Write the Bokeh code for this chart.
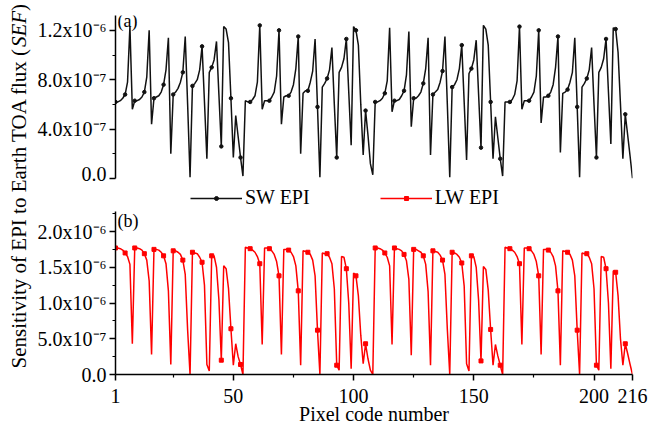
import numpy as np
from bokeh.plotting import figure
from bokeh.models import (Range1d, FixedTicker, CustomJSTickFormatter, Legend,
                          LegendItem, Label, ColumnDataSource)
from bokeh.layouts import row, column
from bokeh.embed import file_html
from bokeh.resources import INLINE

FONT = "Liberation Serif"

# ---------------- data (units of 1e-6) ----------------
pixel_code = list(range(1, 217))

sw_block1 = [0.62, 0.62, 0.63, 0.65, 0.68, 0.78, 1.23, 0.56,
             0.63, 0.63, 0.64, 0.66, 0.70, 0.82, 1.20, 0.44,
             0.65, 0.66, 0.67, 0.70, 0.76, 0.88, 1.14, 0.20,
             0.68, 0.70, 0.73, 0.78, 0.86, 1.15, 0.60, 0.01,
             0.75, 0.77, 0.80, 0.88, 1.07, 0.62, 0.16, 0.86,
             0.90, 0.96, 1.11, 0.68, 0.26,
             1.23, 1.21, 1.10, 0.65, 0.17,
             0.51, 0.34, 0.17, 0.02]
sw_block2 = [0.63, 0.62, 0.62, 0.64, 0.67, 0.78, 1.24, 0.56,
             0.63, 0.63, 0.63, 0.66, 0.70, 0.83, 1.20, 0.44,
             0.66, 0.67, 0.67, 0.70, 0.76, 0.89, 1.15, 0.20,
             0.69, 0.71, 0.71, 0.78, 0.87, 1.13, 0.58, 0.01,
             0.74, 0.77, 0.81, 0.88, 1.06, 0.60, 0.17, 0.86,
             0.90, 0.97, 1.13, 0.70, 0.27,
             1.23, 1.20, 1.08, 0.60, 0.19,
             0.55, 0.35, 0.12, 0.03]
sw_block3 = [0.62, 0.62, 0.63, 0.65, 0.69, 0.79, 1.22, 0.54,
             0.63, 0.63, 0.64, 0.67, 0.71, 0.84, 1.19, 0.42,
             0.65, 0.65, 0.67, 0.70, 0.77, 0.89, 1.14, 0.19,
             0.68, 0.70, 0.72, 0.78, 0.87, 1.15, 0.60, 0.01,
             0.74, 0.76, 0.80, 0.89, 1.08, 0.62, 0.15, 0.85,
             0.89, 0.96, 1.12, 0.68, 0.25,
             1.24, 1.21, 1.08, 0.62, 0.16,
             0.50, 0.33, 0.16, 0.02]
sw_block4 = [0.62, 0.62, 0.62, 0.64, 0.68, 0.79, 1.23, 0.56,
             0.63, 0.63, 0.63, 0.66, 0.70, 0.83, 1.20, 0.45,
             0.66, 0.66, 0.67, 0.70, 0.76, 0.90, 1.15, 0.21,
             0.69, 0.70, 0.72, 0.78, 0.86, 1.14, 0.58, 0.01,
             0.74, 0.77, 0.81, 0.88, 1.06, 0.60, 0.17, 0.86,
             0.90, 0.97, 1.13, 0.70, 0.28,
             1.22, 1.21, 1.02, 0.60, 0.16,
             0.52, 0.35, 0.18, 0.00]

lw_block1 = [1.77, 1.77, 1.76, 1.74, 1.70, 1.65, 1.54, 0.43,
             1.77, 1.77, 1.76, 1.74, 1.69, 1.60, 1.31, 0.28,
             1.75, 1.75, 1.74, 1.71, 1.66, 1.55, 1.17, 0.14,
             1.73, 1.73, 1.71, 1.68, 1.60, 1.40, 0.62, 0.00,
             1.71, 1.70, 1.69, 1.64, 1.57, 1.25, 0.14, 0.05,
             1.66, 1.66, 1.50, 1.05, 0.20,
             1.52, 1.48, 1.20, 0.64, 0.13,
             0.43, 0.25, 0.14, 0.00]
lw_block2 = [1.78, 1.77, 1.76, 1.74, 1.71, 1.65, 1.55, 0.42,
             1.77, 1.77, 1.76, 1.73, 1.68, 1.58, 1.38, 0.28,
             1.75, 1.75, 1.74, 1.71, 1.65, 1.52, 1.17, 0.13,
             1.73, 1.72, 1.71, 1.68, 1.60, 1.38, 0.62, 0.00,
             1.70, 1.69, 1.69, 1.64, 1.55, 1.20, 0.13, 0.06,
             1.65, 1.64, 1.48, 1.00, 0.08,
             1.42, 1.38, 1.10, 0.55, 0.15,
             0.43, 0.22, 0.06, 0.00]
lw_block3 = [1.77, 1.77, 1.76, 1.74, 1.70, 1.64, 1.52, 0.42,
             1.77, 1.76, 1.75, 1.73, 1.68, 1.59, 1.33, 0.27,
             1.75, 1.75, 1.73, 1.71, 1.66, 1.54, 1.16, 0.13,
             1.73, 1.72, 1.71, 1.67, 1.60, 1.40, 0.63, 0.00,
             1.71, 1.70, 1.68, 1.64, 1.56, 1.24, 0.15, 0.05,
             1.66, 1.65, 1.50, 1.04, 0.19,
             1.51, 1.47, 1.18, 0.63, 0.13,
             0.42, 0.26, 0.13, 0.00]
lw_block4 = [1.78, 1.77, 1.76, 1.74, 1.71, 1.65, 1.55, 0.42,
             1.77, 1.77, 1.76, 1.73, 1.68, 1.58, 1.38, 0.28,
             1.75, 1.75, 1.74, 1.71, 1.65, 1.52, 1.17, 0.13,
             1.73, 1.72, 1.71, 1.68, 1.60, 1.38, 0.62, 0.00,
             1.70, 1.69, 1.69, 1.64, 1.55, 1.20, 0.13, 0.06,
             1.65, 1.64, 1.48, 1.00, 0.08,
             1.45, 1.43, 1.10, 0.50, 0.13,
             0.43, 0.29, 0.14, 0.00]

x_major_ticks = [1, 50, 100, 150, 200, 216]
x_minor_ticks = [25, 75, 125, 175]
top_major_ticks = [0.0, 4e-7, 8e-7, 1.2e-6]
top_minor_ticks = [2e-7, 6e-7, 1e-6]
bot_major_ticks = [0.0, 5e-7, 1e-6, 1.5e-6, 2e-6]
bot_minor_ticks = [2.5e-7, 7.5e-7, 1.25e-6, 1.75e-6, 2.25e-6]

series_names = ["SW EPI", "LW EPI"]
y_title_parts = ["Sensitivity of EPI to Earth TOA flux (", "SEF", ")"]
x_title = "Pixel code number"

scale = 1e-6
sw_epi = [v * scale for v in sw_block1 + sw_block2 + sw_block3 + sw_block4]
lw_epi = [v * scale for v in lw_block1 + lw_block2 + lw_block3 + lw_block4]

# markers drawn on every 4th point (as in the original)
src = ColumnDataSource(dict(x=pixel_code, sw=sw_epi, lw=lw_epi))
msrc = ColumnDataSource(dict(x=pixel_code[::4], sw=sw_epi[::4], lw=lw_epi[::4]))

SW_COLOR = "#111111"
LW_COLOR = "#ff0000"

# ---------------- layout constants ----------------
LAB_W = 34
MAIN_W = 648 - LAB_W
B_LEFT = 79
B_RIGHT = 16

sci_formatter = CustomJSTickFormatter(code="""
if (Math.abs(tick) < 1e-15) { return "0.0"; }
const e = Math.floor(Math.log10(Math.abs(tick)) + 1e-9);
const m = tick / Math.pow(10, e);
const sup = {"-": "\\u207b", "0": "\\u2070", "1": "\\u00b9", "2": "\\u00b2", "3": "\\u00b3",
             "4": "\\u2074", "5": "\\u2075", "6": "\\u2076", "7": "\\u2077", "8": "\\u2078", "9": "\\u2079"};
return m.toFixed(1) + "x10" + String(e).split("").map(c => sup[c]).join("");
""")


def style_axis(ax):
    ax.axis_line_width = 1.5
    ax.axis_line_color = "black"
    ax.major_tick_line_width = 1.5
    ax.minor_tick_line_width = 1.2
    ax.major_tick_out = 6
    ax.major_tick_in = 0
    ax.minor_tick_out = 3
    ax.minor_tick_in = 0
    ax.major_label_text_font = FONT
    ax.major_label_text_font_size = "20px"
    ax.major_label_text_color = "black"
    ax.axis_label_text_font = FONT
    ax.axis_label_text_font_style = "normal"
    ax.axis_label_text_font_size = "20px"
    ax.axis_label_text_color = "black"


x_range = Range1d(1, 216)

# ---------------- top panel (a) ----------------
top = figure(width=MAIN_W, height=184, x_range=x_range, y_range=Range1d(0, 1.32e-6),
             output_backend="svg", toolbar_location=None, x_axis_location=None,
             min_border_left=B_LEFT, min_border_right=B_RIGHT,
             min_border_top=15, min_border_bottom=6)
top.outline_line_color = None
top.grid.visible = False
top.yaxis.ticker = FixedTicker(ticks=top_major_ticks, minor_ticks=top_minor_ticks)
top.yaxis.formatter = sci_formatter
top.yaxis.major_label_standoff = 3
style_axis(top.yaxis[0])
top.line("x", "sw", source=src, line_color=SW_COLOR, line_width=1.5)
top.scatter("x", "sw", source=msrc, marker="circle", size=3.5, fill_color=SW_COLOR,
            line_color=SW_COLOR)
top.add_layout(Label(x=2, y=168, x_units="screen", y_units="screen", text="(a)",
                     text_font=FONT, text_font_size="18px", text_baseline="top",
                     text_align="left", text_color="black"))

# ---------------- legend strip between the panels ----------------
leg = figure(width=MAIN_W, height=27, x_range=Range1d(0, 1), y_range=Range1d(0, 1),
             output_backend="svg", toolbar_location=None, x_axis_location=None,
             y_axis_location=None, min_border=0,
             min_border_left=B_LEFT, min_border_right=B_RIGHT)
leg.outline_line_color = None
leg.grid.visible = False
nan = [float("nan")]
sw_l = leg.line(x=nan, y=nan, line_color=SW_COLOR, line_width=1.5)
sw_m = leg.scatter(x=nan, y=nan, marker="circle", size=3.5, fill_color=SW_COLOR, line_color=SW_COLOR)
lw_l = leg.line(x=nan, y=nan, line_color=LW_COLOR, line_width=1.5)
lw_m = leg.scatter(x=nan, y=nan, marker="square", size=4, fill_color=LW_COLOR, line_color=LW_COLOR)
legend = Legend(items=[LegendItem(label=series_names[0], renderers=[sw_l, sw_m]),
                       LegendItem(label=series_names[1], renderers=[lw_l, lw_m])],
                location=(75, 2), orientation="horizontal",
                glyph_width=52, glyph_height=10, label_height=10, label_standoff=3,
                spacing=70, padding=0, margin=0,
                label_text_font=FONT, label_text_font_size="20px",
                label_text_color="black", border_line_color=None,
                background_fill_alpha=0)
leg.add_layout(legend, "center")

# ---------------- bottom panel (b) ----------------
bot = figure(width=MAIN_W, height=220, x_range=x_range, y_range=Range1d(0, 2.28e-6),
             output_backend="svg", toolbar_location=None,
             min_border_left=B_LEFT, min_border_right=B_RIGHT,
             min_border_top=0, min_border_bottom=57)
bot.outline_line_color = None
bot.grid.visible = False
bot.yaxis.ticker = FixedTicker(ticks=bot_major_ticks, minor_ticks=bot_minor_ticks)
bot.yaxis.formatter = sci_formatter
bot.yaxis.major_label_standoff = 3
bot.xaxis.ticker = FixedTicker(ticks=x_major_ticks, minor_ticks=x_minor_ticks)
bot.xaxis.major_label_standoff = 8
bot.xaxis.axis_label = x_title
bot.xaxis.axis_label_standoff = -3
style_axis(bot.yaxis[0])
style_axis(bot.xaxis[0])
bot.line("x", "lw", source=src, line_color=LW_COLOR, line_width=1.5)
bot.scatter("x", "lw", source=msrc, marker="square", size=4, fill_color=LW_COLOR,
            line_color=LW_COLOR)
bot.add_layout(Label(x=2, y=164, x_units="screen", y_units="screen", text="(b)",
                     text_font=FONT, text_font_size="18px", text_baseline="top",
                     text_align="left", text_color="black"))

# ---------------- y title strip ----------------
lab = figure(width=LAB_W, height=431, x_range=Range1d(0, 1), y_range=Range1d(0, 1),
             output_backend="svg", toolbar_location=None, x_axis_location=None,
             y_axis_location=None, min_border=0)
lab.outline_line_color = None
lab.grid.visible = False
FS = 21
em = [15.305, 1.722, 0.333]   # Times metrics (em) of the three parts
y0 = 63
styles = ["normal", "italic", "normal"]
for part, w, st in zip(y_title_parts, em, styles):
    lab.add_layout(Label(x=18, y=y0, x_units="screen", y_units="screen", text=part,
                         angle=np.pi / 2, text_font=FONT, text_font_size=f"{FS}px",
                         text_font_style=st, text_baseline="middle", text_align="left",
                         text_color="black"))
    y0 += w * FS

layout = row(lab, column(top, leg, bot))
open("out.html", "w").write(file_html(layout, INLINE))
